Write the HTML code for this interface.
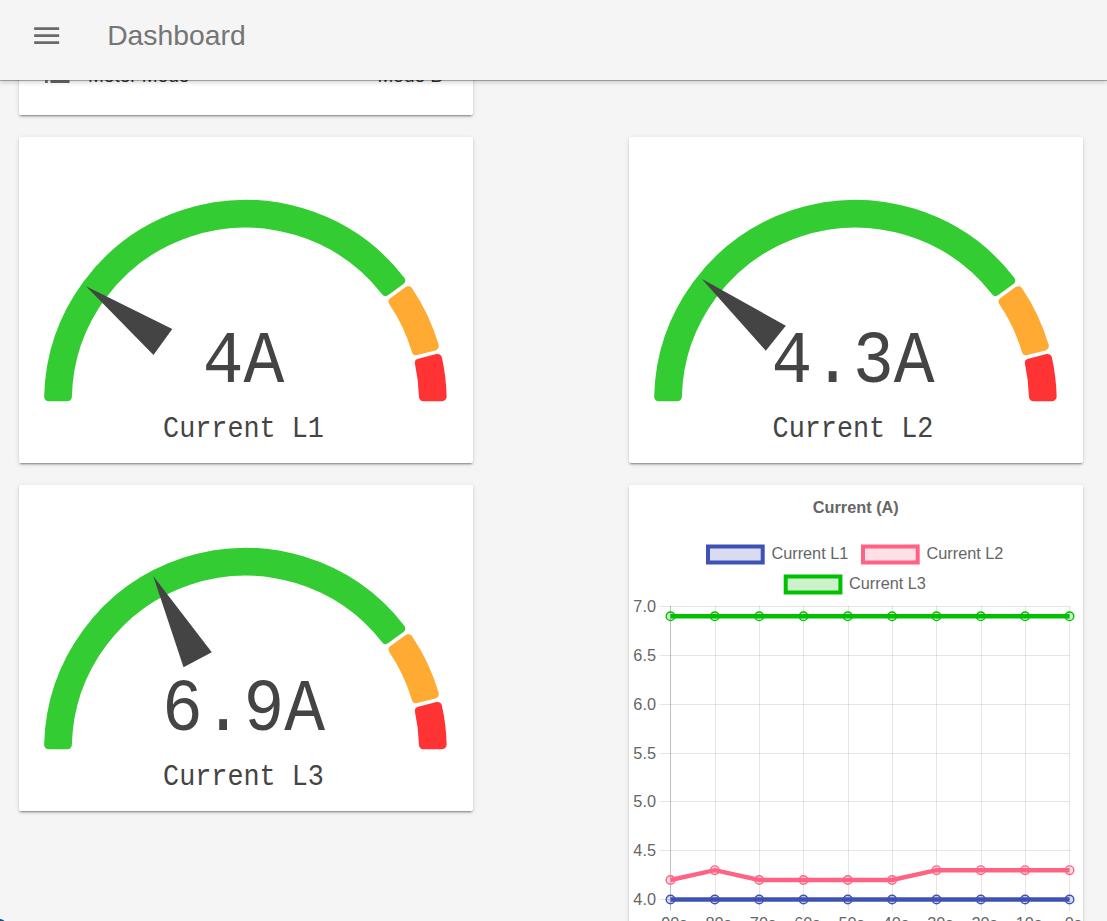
<!DOCTYPE html>
<html><head><meta charset="utf-8"><style>
html,body{margin:0;padding:0;}
body{width:1107px;height:921px;overflow:hidden;position:relative;background:#f5f5f5;font-family:"Liberation Sans",sans-serif;}
.card{position:absolute;background:#fff;border-radius:2px;box-shadow:0 3px 1px -2px rgba(0,0,0,0.2),0 2px 2px 0 rgba(0,0,0,0.14),0 1px 5px 0 rgba(0,0,0,0.12);overflow:hidden;}
.val{position:absolute;left:-5px;right:0;text-align:center;font-family:"Liberation Mono",monospace;font-size:68px;line-height:80px;color:#444;transform:scaleY(1.1);}
.lbl{position:absolute;left:-5px;right:0;text-align:center;font-family:"Liberation Mono",monospace;font-size:26.8px;line-height:40px;color:#444;transform:scaleY(1.12);}
.hdr{position:absolute;left:0;top:0;width:1107px;height:80px;background:#f5f5f5;box-shadow:0 1px 0 rgba(0,0,0,0.27),0 2px 5px rgba(0,0,0,0.2);z-index:5;}
.ttl{font-family:"Liberation Sans",sans-serif;font-weight:bold;font-size:16.3px;fill:#666;}
.lg{font-family:"Liberation Sans",sans-serif;font-size:16.3px;fill:#666;}
.tk{font-family:"Liberation Sans",sans-serif;font-size:16.3px;fill:#666;}
</style></head><body>
<div class="hdr">
<svg width="33.3" height="33.3" viewBox="0 0 24 24" style="position:absolute;left:29.9px;top:18.7px"><path d="M3 18h18v-2H3v2zm0-5h18v-2H3v2zm0-7v2h18V6H3z" fill="#6a6a6a"/></svg>
<div style="position:absolute;left:107.2px;top:16.7px;font-size:28.3px;line-height:36px;color:#757575">Dashboard</div>
</div>
<div class="card" style="left:19px;top:-100px;width:454px;height:215px">
<svg width="32.6" height="32.6" viewBox="0 0 24 24" style="position:absolute;left:21.6px;top:160.1px"><path d="M3 13h2v-2H3v2zm0 4h2v-2H3v2zm0-8h2V7H3v2zm4 4h14v-2H7v2zm0 4h14v-2H7v2zM7 7v2h14V7H7z" fill="#666"/></svg>
<div style="position:absolute;left:69px;top:163.8px;font-size:19px;line-height:24px;color:#333">Meter Mode</div>
<div style="position:absolute;right:30px;top:163.8px;font-size:19px;line-height:24px;color:#333">Mode B</div>
</div>
<div class="card" style="left:19px;top:137px;width:454px;height:326px"><svg width="454" height="326" style="position:absolute;left:0;top:0"><path d="M29.65 259.70 A196.80 196.80 0 0 1 381.77 143.41 L366.63 154.41 A178.10 178.10 0 0 0 48.36 259.70 Z" fill="#33cc33" stroke="#33cc33" stroke-width="9" stroke-linejoin="round"/>
<path d="M389.29 153.76 A196.80 196.80 0 0 1 415.33 209.09 L397.20 213.74 A178.10 178.10 0 0 0 374.15 164.76 Z" fill="#ffaa33" stroke="#ffaa33" stroke-width="9" stroke-linejoin="round"/>
<path d="M418.51 221.48 A196.80 196.80 0 0 1 423.15 259.70 L404.44 259.70 A178.10 178.10 0 0 0 400.38 226.13 Z" fill="#ff3333" stroke="#ff3333" stroke-width="9" stroke-linejoin="round"/>
<path d="M67.02 149.21 L153.28 192.10 L134.48 217.99 Z" fill="#444444"/></svg>
<div class="val" style="top:184.5px">4A</div>
<div class="lbl" style="top:271.5px">Current L1</div>
</div>
<div class="card" style="left:628.5px;top:137px;width:454px;height:326px"><svg width="454" height="326" style="position:absolute;left:0;top:0"><path d="M29.65 259.70 A196.80 196.80 0 0 1 381.77 143.41 L366.63 154.41 A178.10 178.10 0 0 0 48.36 259.70 Z" fill="#33cc33" stroke="#33cc33" stroke-width="9" stroke-linejoin="round"/>
<path d="M389.29 153.76 A196.80 196.80 0 0 1 415.33 209.09 L397.20 213.74 A178.10 178.10 0 0 0 374.15 164.76 Z" fill="#ffaa33" stroke="#ffaa33" stroke-width="9" stroke-linejoin="round"/>
<path d="M418.51 221.48 A196.80 196.80 0 0 1 423.15 259.70 L404.44 259.70 A178.10 178.10 0 0 0 400.38 226.13 Z" fill="#ff3333" stroke="#ff3333" stroke-width="9" stroke-linejoin="round"/>
<path d="M72.66 141.83 L156.80 188.74 L136.79 213.71 Z" fill="#444444"/></svg>
<div class="val" style="top:184.5px">4.3A</div>
<div class="lbl" style="top:271.5px">Current L2</div>
</div>
<div class="card" style="left:19px;top:485px;width:454px;height:326px"><svg width="454" height="326" style="position:absolute;left:0;top:0"><path d="M29.65 259.70 A196.80 196.80 0 0 1 381.77 143.41 L366.63 154.41 A178.10 178.10 0 0 0 48.36 259.70 Z" fill="#33cc33" stroke="#33cc33" stroke-width="9" stroke-linejoin="round"/>
<path d="M389.29 153.76 A196.80 196.80 0 0 1 415.33 209.09 L397.20 213.74 A178.10 178.10 0 0 0 374.15 164.76 Z" fill="#ffaa33" stroke="#ffaa33" stroke-width="9" stroke-linejoin="round"/>
<path d="M418.51 221.48 A196.80 196.80 0 0 1 423.15 259.70 L404.44 259.70 A178.10 178.10 0 0 0 400.38 226.13 Z" fill="#ff3333" stroke="#ff3333" stroke-width="9" stroke-linejoin="round"/>
<path d="M134.22 90.90 L192.81 167.37 L164.53 182.34 Z" fill="#444444"/></svg>
<div class="val" style="top:184.5px">6.9A</div>
<div class="lbl" style="top:271.5px">Current L3</div>
</div>
<div class="card" style="left:628.5px;top:485px;width:454px;height:500px"></div>
<svg width="1107" height="921" style="position:absolute;left:0;top:0"><line x1="659.5" y1="606.5" x2="1070" y2="606.5" stroke="rgba(0,0,0,0.1)" stroke-width="1"/>
<line x1="659.5" y1="655.5" x2="1070" y2="655.5" stroke="rgba(0,0,0,0.1)" stroke-width="1"/>
<line x1="659.5" y1="704.5" x2="1070" y2="704.5" stroke="rgba(0,0,0,0.1)" stroke-width="1"/>
<line x1="659.5" y1="753.5" x2="1070" y2="753.5" stroke="rgba(0,0,0,0.1)" stroke-width="1"/>
<line x1="659.5" y1="801.5" x2="1070" y2="801.5" stroke="rgba(0,0,0,0.1)" stroke-width="1"/>
<line x1="659.5" y1="850.5" x2="1070" y2="850.5" stroke="rgba(0,0,0,0.1)" stroke-width="1"/>
<line x1="659.5" y1="899.5" x2="1070" y2="899.5" stroke="rgba(0,0,0,0.1)" stroke-width="1"/>
<line x1="670.5" y1="606" x2="670.5" y2="910.5" stroke="rgba(0,0,0,0.25)" stroke-width="1"/>
<line x1="715.5" y1="606" x2="715.5" y2="910.5" stroke="rgba(0,0,0,0.1)" stroke-width="1"/>
<line x1="759.5" y1="606" x2="759.5" y2="910.5" stroke="rgba(0,0,0,0.1)" stroke-width="1"/>
<line x1="803.5" y1="606" x2="803.5" y2="910.5" stroke="rgba(0,0,0,0.1)" stroke-width="1"/>
<line x1="848.5" y1="606" x2="848.5" y2="910.5" stroke="rgba(0,0,0,0.1)" stroke-width="1"/>
<line x1="892.5" y1="606" x2="892.5" y2="910.5" stroke="rgba(0,0,0,0.1)" stroke-width="1"/>
<line x1="936.5" y1="606" x2="936.5" y2="910.5" stroke="rgba(0,0,0,0.1)" stroke-width="1"/>
<line x1="981.5" y1="606" x2="981.5" y2="910.5" stroke="rgba(0,0,0,0.1)" stroke-width="1"/>
<line x1="1025.5" y1="606" x2="1025.5" y2="910.5" stroke="rgba(0,0,0,0.1)" stroke-width="1"/>
<line x1="1069.5" y1="606" x2="1069.5" y2="910.5" stroke="rgba(0,0,0,0.1)" stroke-width="1"/>
<text x="656" y="612.0" text-anchor="end" class="tk">7.0</text>
<text x="656" y="661.0" text-anchor="end" class="tk">6.5</text>
<text x="656" y="710.0" text-anchor="end" class="tk">6.0</text>
<text x="656" y="759.0" text-anchor="end" class="tk">5.5</text>
<text x="656" y="807.0" text-anchor="end" class="tk">5.0</text>
<text x="656" y="856.0" text-anchor="end" class="tk">4.5</text>
<text x="656" y="905.0" text-anchor="end" class="tk">4.0</text>
<text x="674.3" y="929" text-anchor="middle" class="tk">90s</text>
<text x="718.6" y="929" text-anchor="middle" class="tk">80s</text>
<text x="763.0" y="929" text-anchor="middle" class="tk">70s</text>
<text x="807.3" y="929" text-anchor="middle" class="tk">60s</text>
<text x="851.6" y="929" text-anchor="middle" class="tk">50s</text>
<text x="895.9" y="929" text-anchor="middle" class="tk">40s</text>
<text x="940.3" y="929" text-anchor="middle" class="tk">30s</text>
<text x="984.6" y="929" text-anchor="middle" class="tk">20s</text>
<text x="1028.9" y="929" text-anchor="middle" class="tk">10s</text>
<text x="1073.3" y="929" text-anchor="middle" class="tk">0s</text>
<polyline points="670.5,899.5 714.8,899.5 759.2,899.5 803.5,899.5 847.8,899.5 892.1,899.5 936.5,899.5 980.8,899.5 1025.1,899.5 1069.5,899.5" fill="none" stroke="#3f51b5" stroke-width="4.4" stroke-linejoin="miter"/>
<circle cx="670.5" cy="899.5" r="4.3" fill="rgba(63,81,181,0.2)" stroke="#3f51b5" stroke-width="1.4"/>
<circle cx="714.8" cy="899.5" r="4.3" fill="rgba(63,81,181,0.2)" stroke="#3f51b5" stroke-width="1.4"/>
<circle cx="759.2" cy="899.5" r="4.3" fill="rgba(63,81,181,0.2)" stroke="#3f51b5" stroke-width="1.4"/>
<circle cx="803.5" cy="899.5" r="4.3" fill="rgba(63,81,181,0.2)" stroke="#3f51b5" stroke-width="1.4"/>
<circle cx="847.8" cy="899.5" r="4.3" fill="rgba(63,81,181,0.2)" stroke="#3f51b5" stroke-width="1.4"/>
<circle cx="892.1" cy="899.5" r="4.3" fill="rgba(63,81,181,0.2)" stroke="#3f51b5" stroke-width="1.4"/>
<circle cx="936.5" cy="899.5" r="4.3" fill="rgba(63,81,181,0.2)" stroke="#3f51b5" stroke-width="1.4"/>
<circle cx="980.8" cy="899.5" r="4.3" fill="rgba(63,81,181,0.2)" stroke="#3f51b5" stroke-width="1.4"/>
<circle cx="1025.1" cy="899.5" r="4.3" fill="rgba(63,81,181,0.2)" stroke="#3f51b5" stroke-width="1.4"/>
<circle cx="1069.5" cy="899.5" r="4.3" fill="rgba(63,81,181,0.2)" stroke="#3f51b5" stroke-width="1.4"/>
<polyline points="670.5,880.0 714.8,870.2 759.2,880.0 803.5,880.0 847.8,880.0 892.1,880.0 936.5,870.2 980.8,870.2 1025.1,870.2 1069.5,870.2" fill="none" stroke="#ff6384" stroke-width="4.4" stroke-linejoin="miter"/>
<circle cx="670.5" cy="880.0" r="4.3" fill="rgba(255,99,132,0.2)" stroke="#ff6384" stroke-width="1.4"/>
<circle cx="714.8" cy="870.2" r="4.3" fill="rgba(255,99,132,0.2)" stroke="#ff6384" stroke-width="1.4"/>
<circle cx="759.2" cy="880.0" r="4.3" fill="rgba(255,99,132,0.2)" stroke="#ff6384" stroke-width="1.4"/>
<circle cx="803.5" cy="880.0" r="4.3" fill="rgba(255,99,132,0.2)" stroke="#ff6384" stroke-width="1.4"/>
<circle cx="847.8" cy="880.0" r="4.3" fill="rgba(255,99,132,0.2)" stroke="#ff6384" stroke-width="1.4"/>
<circle cx="892.1" cy="880.0" r="4.3" fill="rgba(255,99,132,0.2)" stroke="#ff6384" stroke-width="1.4"/>
<circle cx="936.5" cy="870.2" r="4.3" fill="rgba(255,99,132,0.2)" stroke="#ff6384" stroke-width="1.4"/>
<circle cx="980.8" cy="870.2" r="4.3" fill="rgba(255,99,132,0.2)" stroke="#ff6384" stroke-width="1.4"/>
<circle cx="1025.1" cy="870.2" r="4.3" fill="rgba(255,99,132,0.2)" stroke="#ff6384" stroke-width="1.4"/>
<circle cx="1069.5" cy="870.2" r="4.3" fill="rgba(255,99,132,0.2)" stroke="#ff6384" stroke-width="1.4"/>
<polyline points="670.5,616.3 714.8,616.3 759.2,616.3 803.5,616.3 847.8,616.3 892.1,616.3 936.5,616.3 980.8,616.3 1025.1,616.3 1069.5,616.3" fill="none" stroke="#00c000" stroke-width="4.4" stroke-linejoin="miter"/>
<circle cx="670.5" cy="616.3" r="4.3" fill="rgba(0,192,0,0.2)" stroke="#00c000" stroke-width="1.4"/>
<circle cx="714.8" cy="616.3" r="4.3" fill="rgba(0,192,0,0.2)" stroke="#00c000" stroke-width="1.4"/>
<circle cx="759.2" cy="616.3" r="4.3" fill="rgba(0,192,0,0.2)" stroke="#00c000" stroke-width="1.4"/>
<circle cx="803.5" cy="616.3" r="4.3" fill="rgba(0,192,0,0.2)" stroke="#00c000" stroke-width="1.4"/>
<circle cx="847.8" cy="616.3" r="4.3" fill="rgba(0,192,0,0.2)" stroke="#00c000" stroke-width="1.4"/>
<circle cx="892.1" cy="616.3" r="4.3" fill="rgba(0,192,0,0.2)" stroke="#00c000" stroke-width="1.4"/>
<circle cx="936.5" cy="616.3" r="4.3" fill="rgba(0,192,0,0.2)" stroke="#00c000" stroke-width="1.4"/>
<circle cx="980.8" cy="616.3" r="4.3" fill="rgba(0,192,0,0.2)" stroke="#00c000" stroke-width="1.4"/>
<circle cx="1025.1" cy="616.3" r="4.3" fill="rgba(0,192,0,0.2)" stroke="#00c000" stroke-width="1.4"/>
<circle cx="1069.5" cy="616.3" r="4.3" fill="rgba(0,192,0,0.2)" stroke="#00c000" stroke-width="1.4"/>
<text x="855.8" y="513" text-anchor="middle" class="ttl">Current (A)</text>
<rect x="708.0" y="546.5" width="54.7" height="16" fill="rgba(63,81,181,0.2)" stroke="#3f51b5" stroke-width="4"/>
<text x="771.4" y="558.7" class="lg">Current L1</text>
<rect x="863.0" y="546.5" width="54.7" height="16" fill="rgba(255,99,132,0.2)" stroke="#ff6384" stroke-width="4"/>
<text x="926.5" y="558.7" class="lg">Current L2</text>
<rect x="785.7" y="576.5" width="54.7" height="16" fill="rgba(0,192,0,0.2)" stroke="#00c000" stroke-width="4"/>
<text x="849.0" y="588.7" class="lg">Current L3</text></svg>
<div style="position:absolute;left:-11px;top:918.5px;width:20px;height:24px;border-radius:50%;background:#0d4f8f"></div>
</body></html>
